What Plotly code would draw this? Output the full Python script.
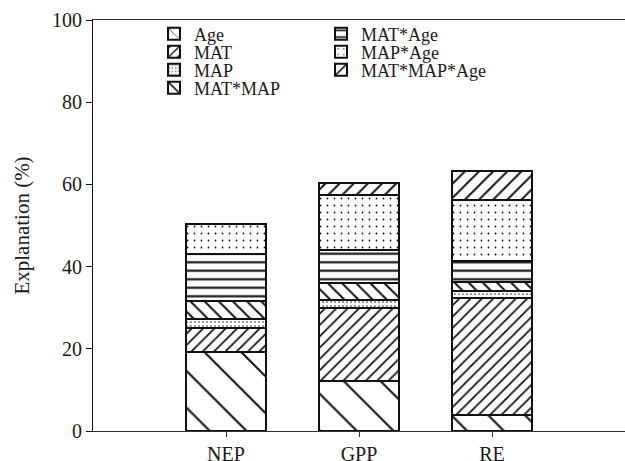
import plotly.graph_objects as go

categories = ["NEP", "GPP", "RE"]
age = [19.2, 12.2, 3.9]
mat = [5.9, 17.8, 28.4]
map_ = [2.2, 1.9, 1.8]
mat_map = [4.4, 4.0, 2.2]
mat_age = [11.3, 8.1, 5.1]
map_age = [7.3, 13.4, 14.8]
mat_map_age = [0.0, 2.9, 7.1]
y_ticks = [0, 20, 40, 60, 80, 100]

series = [
    ("Age", age, dict(shape="\\", size=26, solidity=0.08)),
    ("MAT", mat, dict(shape="/", size=8, solidity=0.22)),
    ("MAP", map_, dict(shape=".", size=4, solidity=0.12)),
    ("MAT*MAP", mat_map, dict(shape="\\", size=10, solidity=0.2)),
    ("MAT*Age", mat_age, dict(shape="-", size=8.5, solidity=0.25)),
    ("MAP*Age", map_age, dict(shape=".", size=7, solidity=0.05)),
    ("MAT*MAP*Age", mat_map_age, dict(shape="/", size=10, solidity=0.2)),
]

# legend placement (pixels in the 625x461 canvas)
L, R, T, B = 93, 0, 20, 30
W, H = 625, 461
pw, ph = W - L - R, H - T - B
legend_pos = [(154, 34), (154, 52), (154, 70), (154, 88),
              (321, 34), (321, 52), (321, 70)]

font_family = "Liberation Serif, Times New Roman, Times, serif"
fig = go.Figure()
layout_legends = {}
for i, (name, vals, pat) in enumerate(series):
    lname = "legend" if i == 0 else f"legend{i+1}"
    fig.add_trace(go.Bar(
        x=list(range(len(categories))), y=vals, name=name, width=0.6,
        marker=dict(color="white", line=dict(color="#111111", width=2),
                    pattern=dict(fgcolor="#111111", bgcolor="white",
                                 fillmode="replace", **pat)),
        legend=lname,
    ))
    px, py = legend_pos[i]
    layout_legends[lname] = dict(
        x=(px - L) / pw, y=(H - B - py) / ph, xanchor="left", yanchor="middle",
        xref="paper", yref="paper", bgcolor="rgba(0,0,0,0)",
        font=dict(family=font_family, size=18, color="#1a1a1a"),
        itemwidth=30, tracegroupgap=0,
    )

fig.update_layout(
    barmode="stack",
    width=W, height=H,
    margin=dict(l=L, r=R, t=T, b=B, autoexpand=False),
    paper_bgcolor="white", plot_bgcolor="white",
    showlegend=True,
    font=dict(family=font_family, size=20, color="#1a1a1a"),
    xaxis=dict(
        range=[-1, 3], tickmode="array", tickvals=list(range(len(categories))),
        ticktext=categories, showgrid=False, zeroline=False, automargin=False,
        showline=True, linecolor="#333333", linewidth=1, mirror=True,
        ticks="outside", ticklen=5, tickcolor="#333333", ticklabelstandoff=0,
        tickfont=dict(family=font_family, size=20, color="#1a1a1a"),
    ),
    yaxis=dict(
        range=[0, 100], tickvals=y_ticks, showgrid=False, zeroline=False,
        automargin=False,
        showline=True, linecolor="#111111", linewidth=1,
        ticks="outside", ticklen=6, tickcolor="#111111",
        tickfont=dict(family=font_family, size=20, color="#1a1a1a"),
        title=dict(text="Explanation (%)", standoff=16,
                   font=dict(family=font_family, size=21, color="#1a1a1a")),
    ),
    **layout_legends,
)

fig.write_html("out.html", config={"displayModeBar": False},
               post_script="document.body.style.margin='0';")
